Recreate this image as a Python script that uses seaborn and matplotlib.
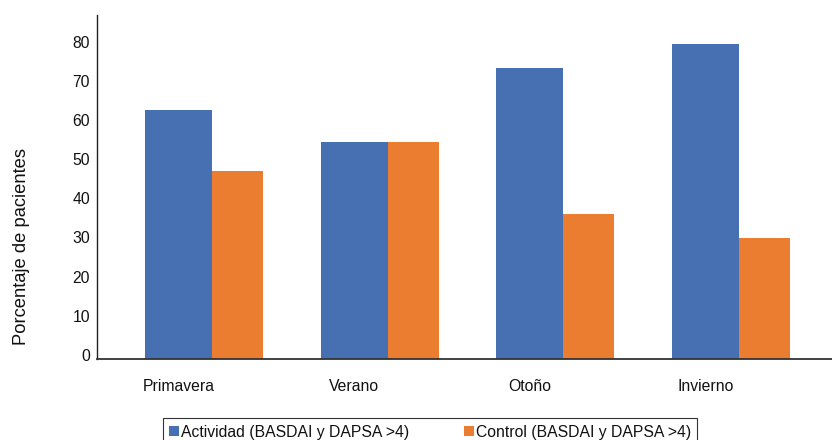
import pandas as pd
import numpy as np
import matplotlib.pyplot as plt
import matplotlib.transforms as mtransforms
import seaborn as sns

estaciones = ['Primavera', 'Verano', 'Otoño', 'Invierno']
actividad = [63.5, 55.5, 74.2, 80.4]
control = [48, 55.5, 37, 31]
grupos = ['Actividad (BASDAI y DAPSA >4)', 'Control (BASDAI y DAPSA >4)']
colores = ['#4770b3', '#eb7d30']

df = pd.DataFrame({
    'Estación': estaciones * 2,
    'Porcentaje': actividad + control,
    'Grupo': [grupos[0]] * 4 + [grupos[1]] * 4,
})

sns.set_style('white')
plt.rcParams['font.family'] = ['Liberation Sans', 'DejaVu Sans']
plt.rcParams['text.color'] = '#111111'
plt.rcParams['axes.labelcolor'] = '#111111'
plt.rcParams['xtick.color'] = '#111111'
plt.rcParams['ytick.color'] = '#111111'

fig = plt.figure(figsize=(8.32, 4.4), dpi=100)
ax = fig.add_axes([97 / 832, 1 - 359 / 440, 1 - 97 / 832, 344 / 440])
sns.barplot(data=df, x='Estación', y='Porcentaje', hue='Grupo',
            palette=colores, saturation=1, linewidth=0, ax=ax, legend=True)

# blue bars are wider than orange ones, sitting side by side
for bar in ax.containers[0]:
    c = bar.get_x() + bar.get_width() / 2 + 0.2
    bar.set_x(c - 0.19)
    bar.set_width(0.38)
for bar in ax.containers[1]:
    c = bar.get_x() + bar.get_width() / 2 - 0.2
    bar.set_x(c + 0.19)
    bar.set_width(0.29)

ax.set_xlim(-0.464, 3.72)
ax.set_ylim(0, 87.8)
ax.set_yticks(range(0, 90, 10))
ax.tick_params(axis='both', length=0, labelsize=11.3)
ax.tick_params(axis='x', pad=14.5)
ax.tick_params(axis='y', pad=5)
# y labels sit a few pixels above their gridline values in the original
shift = mtransforms.ScaledTranslation(0, 4 / 100, fig.dpi_scale_trans)
for lab in ax.get_yticklabels():
    lab.set_transform(lab.get_transform() + shift)
ax.set_xlabel('')
ax.set_ylabel('Porcentaje de pacientes', fontsize=13.2)
ax.yaxis.set_label_coords((30 - 97) / 735, (359 - 246) / 344)
sns.despine(ax=ax)
ax.spines['left'].set_color('#222222')
ax.spines['bottom'].set_color('#333333')
ax.spines['left'].set_linewidth(1.0)
ax.spines['bottom'].set_linewidth(1.3)

handles, labels = ax.get_legend_handles_labels()
ax.get_legend().remove()
leg = fig.legend(handles, labels, loc='center', bbox_to_anchor=(0.517, 1 - 432 / 440),
                 ncol=2, frameon=True, fancybox=False, edgecolor='black',
                 fontsize=11.3, handlelength=0.6, handleheight=0.6, handletextpad=0.15,
                 columnspacing=3.5, borderpad=0.4, borderaxespad=0)
leg.get_frame().set_linewidth(0.8)

plt.savefig('out.png', dpi=100)
